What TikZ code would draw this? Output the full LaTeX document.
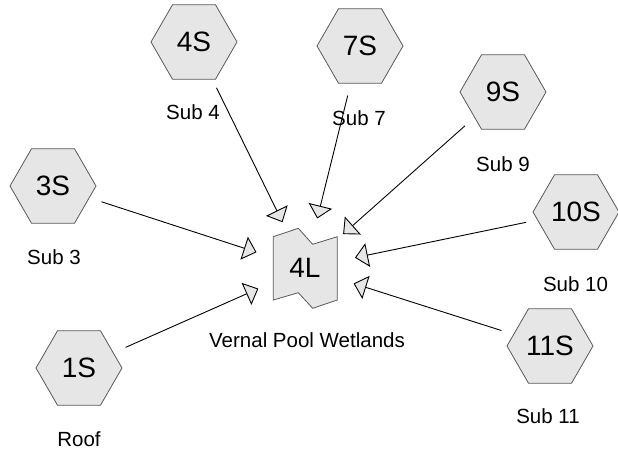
\documentclass[tikz,border=0pt]{standalone}
\usepackage{fontspec}
\setmainfont{Liberation Sans}
\usetikzlibrary{shapes.geometric,arrows.meta}
\definecolor{shapefill}{HTML}{E6E6E6}
\definecolor{shapeline}{HTML}{595959}
\begin{document}
\begin{tikzpicture}[x=1pt,y=-1pt,
  hexnode/.style={regular polygon, regular polygon sides=6, minimum size=86pt, inner sep=0pt,
    draw=shapeline, fill=shapefill, line width=0.8pt, font=\fontsize{28}{32}\selectfont},
  lbl/.style={font=\fontsize{20.5}{24}\selectfont, inner sep=0pt},
  poolshape/.style={draw=shapeline, fill=shapefill, line width=0.8pt},
  conn/.style={draw=black, line width=0.9pt, shorten <=51pt, shorten >=51pt,
    -{Triangle[length=13pt,width=24pt,fill=shapefill]}}]
\useasboundingbox (0,0) rectangle (618,454);
% hexagons
\node[hexnode] (s4) at (194,42) {4S};
\node[hexnode] (s7) at (360,46) {7S};
\node[hexnode] (s9) at (503,92) {9S};
\node[hexnode] (s3) at (53,186) {3S};
\node[hexnode] (s10) at (576,212) {10S};
\node[hexnode] (s1) at (79,368) {1S};
\node[hexnode] (s11) at (550,346) {11S};
% central pool
\begin{scope}[shift={(305,268)}]
\draw[poolshape] (-31.7,-31.3) -- (-6.7,-39.7) -- (7.7,-23.7) -- (32.3,-31.3) -- (32.3,32)
  -- (7.7,40.3) -- (-6.7,24.7) -- (-31.7,32) -- cycle;
\end{scope}
\node[font=\fontsize{28}{32}\selectfont, inner sep=0pt] (l4) at (305,268) {4L};
% labels
\node[lbl] (t4) at (193,112) {Sub 4};
\node[lbl] (t7) at (359,118) {Sub 7};
\node[lbl] (t9) at (503,164) {Sub 9};
\node[lbl] (t3) at (54,257.5) {Sub 3};
\node[lbl] (t10) at (575.5,284) {Sub 10};
\node[lbl] (t1) at (79,439) {Roof};
\node[lbl] (t11) at (548,416) {Sub 11};
\node[lbl] (tl4) at (307,340.5) {Vernal Pool Wetlands};
% connectors
\foreach \s in {s4,s7,s9,s3,s10,s1,s11}
  \draw[conn] (\s.center) -- (l4.center);
\end{tikzpicture}
\end{document}
